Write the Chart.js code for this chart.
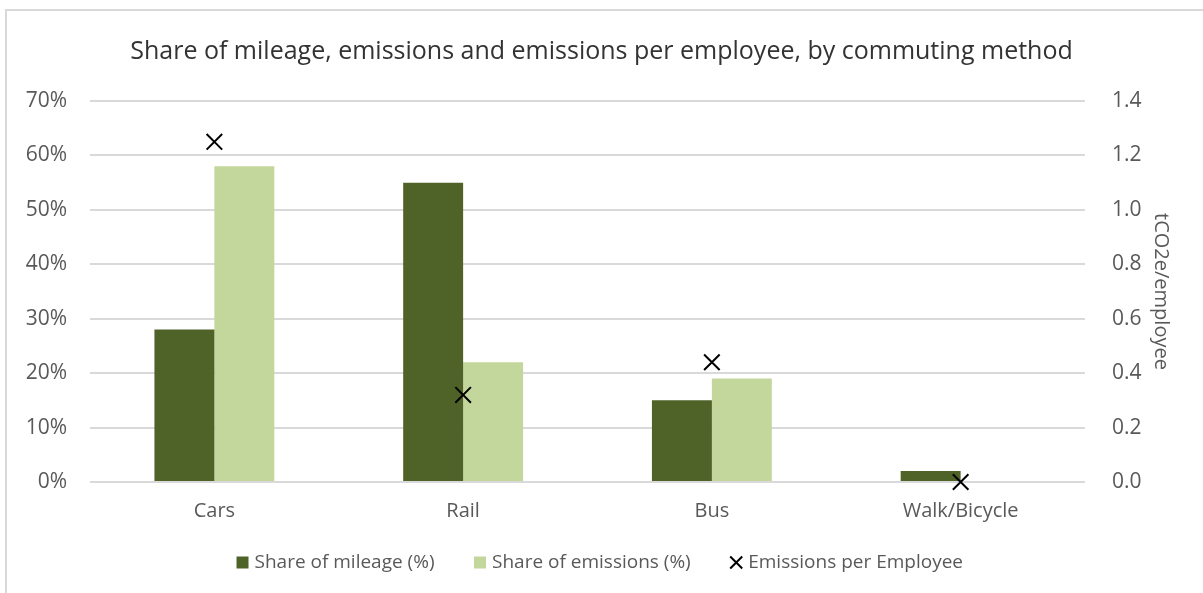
<!DOCTYPE html>
<html>
<head>
<meta charset="utf-8">
<script src="https://cdn.jsdelivr.net/npm/chart.js@4.4.1/dist/chart.umd.min.js"></script>
<style>
  html, body { margin: 0; padding: 0; background: #fff; overflow: hidden; }
  #frame { position: absolute; left: 5px; top: 9px; width: 1300px; height: 700px;
           border-left: 2px solid #d9d9d9; border-top: 2px solid #d9d9d9; }
  canvas { position: absolute; left: 0; top: 0; }
</style>
</head>
<body>
<div id="frame"></div>
<canvas id="chart" width="1203" height="593"></canvas>
<script>
// Commuting methods and their shares / per-employee emissions
const categories = ['Cars', 'Rail', 'Bus', 'Walk/Bicycle'];
const mileageShare = [28, 55, 15, 2];          // % of total commuting mileage
const emissionsShare = [58, 22, 19, 0];        // % of total commuting emissions
const emissionsPerEmployee = [1.25, 0.32, 0.44, 0]; // tCO2e per employee

const FONT = 'Open Sans';
const TEXT = '#595959';
const X_AXIS_TRIM = 22; // category axis takes less vertical room than its labels need

// Give the category labels their full height back after layout so they are not clipped
const categoryLabelRoom = {
  id: 'categoryLabelRoom',
  afterLayout(chart) {
    const x = chart.scales.x;
    x.bottom += X_AXIS_TRIM;
    x.height += X_AXIS_TRIM;
  }
};

new Chart(document.getElementById('chart'), {
  type: 'bar',
  plugins: [categoryLabelRoom],
  data: {
    labels: categories,
    datasets: [
      {
        label: 'Share of mileage (%)',
        data: mileageShare,
        backgroundColor: '#4f6228',
        yAxisID: 'y',
        categoryPercentage: 0.482,
        barPercentage: 1,
        pointStyle: 'rect',
        order: 2
      },
      {
        label: 'Share of emissions (%)',
        data: emissionsShare,
        backgroundColor: '#c3d69b',
        yAxisID: 'y',
        categoryPercentage: 0.482,
        barPercentage: 1,
        pointStyle: 'rect',
        order: 2
      },
      {
        type: 'line',
        label: 'Emissions per Employee',
        data: emissionsPerEmployee,
        yAxisID: 'y1',
        showLine: false,
        pointStyle: 'crossRot',
        pointRadius: 11,
        pointHoverRadius: 11,
        pointBorderWidth: 2,
        borderWidth: 2,
        borderColor: '#000',
        backgroundColor: '#000',
        clip: false,
        order: 1
      }
    ]
  },
  options: {
    responsive: false,
    animation: false,
    layout: { padding: { left: 10, right: 10, top: 10, bottom: 11 } },
    plugins: {
      title: {
        display: true,
        text: 'Share of mileage, emissions and emissions per employee, by commuting method',
        font: { family: FONT, size: 25, weight: 'normal' },
        color: '#333333',
        padding: { top: 27, bottom: 34 }
      },
      legend: {
        position: 'bottom',
        labels: {
          usePointStyle: true,
          boxWidth: 5,
          boxHeight: 12,
          padding: 43,
          color: TEXT,
          font: { family: FONT, size: 19 },
          sort: (a, b) => a.datasetIndex - b.datasetIndex
        }
      },
      tooltip: { enabled: false }
    },
    scales: {
      x: {
        grid: { display: false },
        border: { display: false },
        ticks: { color: TEXT, font: { family: FONT, size: 20 }, padding: 9 },
        afterFit(scale) { scale.height -= X_AXIS_TRIM; }
      },
      y: {
        position: 'left',
        min: 0,
        max: 70,
        ticks: {
          stepSize: 10,
          callback: v => v + '%',
          color: TEXT,
          font: { family: FONT, size: 21 },
          padding: 23
        },
        grid: { color: '#d9d9d9', lineWidth: 2, drawTicks: false },
        border: { display: false },
        afterFit(scale) { scale.width = 80; }
      },
      y1: {
        position: 'right',
        min: 0,
        max: 1.4,
        ticks: {
          stepSize: 0.2,
          callback: v => v.toFixed(1),
          color: TEXT,
          font: { family: FONT, size: 21 },
          padding: 27
        },
        grid: { display: false, drawTicks: false },
        border: { display: false },
        title: {
          display: true,
          text: 'tCO2e/employee',
          color: TEXT,
          font: { family: FONT, size: 20 },
          padding: { top: 20, bottom: 0 }
        },
        afterFit(scale) { scale.width = 108; }
      }
    }
  }
});
</script>
</body>
</html>
